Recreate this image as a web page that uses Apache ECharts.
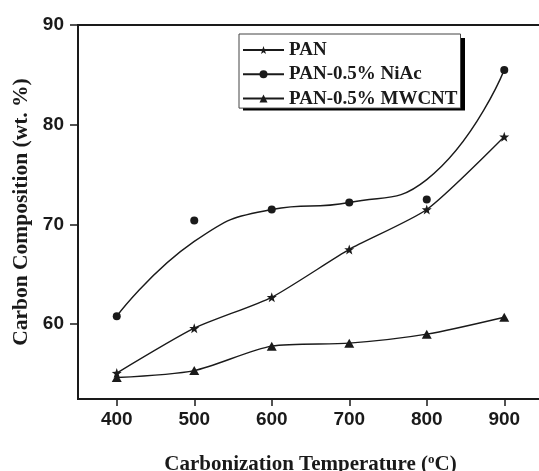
<!DOCTYPE html>
<html>
<head>
<meta charset="utf-8">
<script src="https://cdn.jsdelivr.net/npm/echarts@6/dist/echarts.min.js"></script>
<style>html,body{margin:0;padding:0;background:#fff;}#c{width:539px;height:471px;}</style>
</head>
<body>
<div id="c"></div>
<script>
// Data
const temperatures = [400, 500, 600, 700, 800, 900];
const panValues = [55.1, 59.6, 62.7, 67.5, 71.5, 78.8];
const niAcValues = [60.8, 70.4, 71.5, 72.2, 72.5, 85.5];
// fitted curve of the NiAc series as drawn in the picture (curve does not pass through every point)
const niAcCurve = [60.8, 68.3, 71.5, 72.2, 74.5, 85.5];
const mwcntValues = [54.65, 55.35, 57.8, 58.1, 59.0, 60.7];
const xTicks = [400, 500, 600, 700, 800, 900];
const yTicks = [60, 70, 80, 90];
const seriesNames = ['PAN', 'PAN-0.5% NiAc', 'PAN-0.5% MWCNT'];

const pair = (xs, ys) => xs.map((x, i) => [x, ys[i]]);
const starPath = 'path://M0,-10 L2.35,-3.24 L9.51,-3.09 L3.8,1.24 L5.88,8.09 L0,4 L-5.88,8.09 L-3.8,1.24 L-9.51,-3.09 L-2.35,-3.24 Z';
const ink = '#1a1a1a';
const serif = '"Liberation Serif", "Times New Roman", serif';
const sans = '"Liberation Sans", Arial, sans-serif';

const chart = echarts.init(document.getElementById('c'), null, {renderer: 'canvas'});
chart.setOption({
  animation: false,
  backgroundColor: '#fff',
  grid: {left: 78, top: 25, width: 465, height: 374, outerBoundsMode: 'none', containLabel: false,
         show: true, borderColor: ink, borderWidth: 2, backgroundColor: 'transparent'},
  graphic: [{
    type: 'rect', z: 3, silent: true,
    shape: {x: 243, y: 38, width: 222, height: 72.6},
    style: {fill: '#000'}
  }],
  legend: {
    data: seriesNames,
    orient: 'vertical',
    left: 239, top: 34,
    z: 5,
    padding: [6.5, 3, 0, 3],
    itemWidth: 41, itemHeight: 10, itemGap: 5.3,
    backgroundColor: '#fff',
    borderColor: '#444', borderWidth: 1,
    textStyle: {fontFamily: serif, fontWeight: 'bold', fontSize: 19, color: ink},
    inactiveColor: ink
  },
  xAxis: {
    type: 'value', min: 350, max: 950,
    name: '{t|Carbonization Temperature (}{s|o}{t|C)}',
    nameLocation: 'middle', nameGap: 54,
    nameTextStyle: {
      rich: {
        t: {fontFamily: serif, fontWeight: 'bold', fontSize: 21, color: ink, lineHeight: 24},
        s: {fontFamily: serif, fontWeight: 'bold', fontSize: 13, color: ink, lineHeight: 13, verticalAlign: 'top'}
      }
    },
    axisLine: {show: true, lineStyle: {color: ink, width: 2}},
    axisTick: {show: true, inside: false, length: 7, lineStyle: {color: ink, width: 1.5}, customValues: xTicks},
    axisLabel: {customValues: xTicks, margin: 11, fontFamily: sans, fontWeight: 'bold', fontSize: 19, color: ink},
    splitLine: {show: false}
  },
  yAxis: {
    type: 'value', min: 52.5, max: 90,
    name: 'Carbon Composition (wt. %)',
    nameLocation: 'middle', nameGap: 44, nameRotate: 90,
    nameTextStyle: {fontFamily: serif, fontWeight: 'bold', fontSize: 21.5, color: ink},
    axisLine: {show: true, lineStyle: {color: ink, width: 2}},
    axisTick: {show: true, inside: false, length: 8, lineStyle: {color: ink, width: 1.5}, customValues: yTicks},
    axisLabel: {customValues: yTicks, margin: 14, fontFamily: sans, fontWeight: 'bold', fontSize: 19, color: ink},
    splitLine: {show: false}
  },
  series: [
    {
      name: seriesNames[0], type: 'line', smooth: 0.2,
      data: pair(temperatures, panValues),
      symbol: starPath, symbolSize: 10,
      itemStyle: {color: ink, opacity: 1}, lineStyle: {color: ink, width: 1.4}
    },
    {
      name: seriesNames[1], type: 'line', smooth: 0.5,
      data: pair(temperatures, niAcCurve),
      symbol: 'none',
      itemStyle: {color: ink, opacity: 1}, lineStyle: {color: ink, width: 1.4}
    },
    {
      name: seriesNames[2], type: 'line', smooth: 0.25,
      data: pair(temperatures, mwcntValues),
      symbol: 'triangle', symbolSize: [10, 9],
      itemStyle: {color: ink, opacity: 1}, lineStyle: {color: ink, width: 1.4}
    },
    {
      name: 'NiAc points', type: 'scatter',
      data: pair(temperatures, niAcValues),
      symbol: 'circle', symbolSize: 8,
      itemStyle: {color: ink, opacity: 1}, z: 3
    }
  ]
});
</script>
</body>
</html>
